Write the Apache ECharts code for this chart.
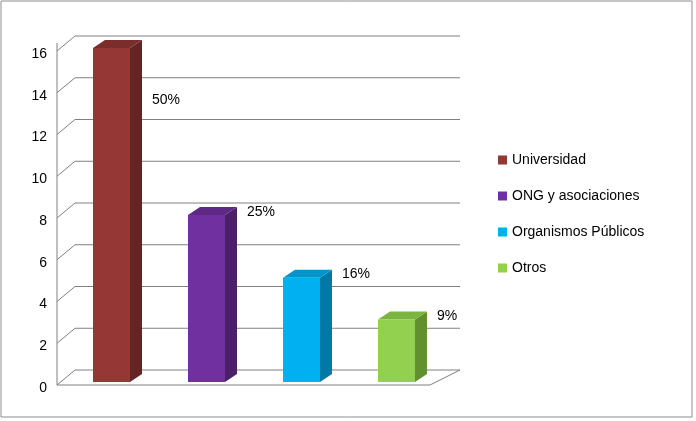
<!DOCTYPE html><html><head><meta charset="utf-8"><script src="https://cdn.jsdelivr.net/npm/echarts@6/dist/echarts.min.js"></script>
<style>body{margin:0}#c{width:696px;height:421px}</style></head><body><div id="c"></div><script>
const categories=['Universidad','ONG y asociaciones','Organismos Públicos','Otros'];
const values=[16,8,5,3];
const percents=['50%','25%','16%','9%'];
const ticks=[0,2,4,6,8,10,12,14,16];
const colors=[['#953735','#632523','#7a2d2b'],['#7030a0','#4b2069','#5e2886'],['#00b0f0','#0079a6','#0096cc'],['#92d050','#62902f','#7cb442']];
const DX=-18,DY=15;
const chart=echarts.init(document.getElementById('c'));
const font='Liberation Sans';
chart.setOption({
 animation:false,
 graphic:[{type:'rect',shape:{x:1,y:1,width:691,height:416},style:{fill:'#fff',stroke:'#8c8c8c',lineWidth:1},z:-10}],
 grid:{left:80,right:236,top:36,bottom:51},
 xAxis:{type:'category',data:categories,show:false},
 yAxis:{type:'value',min:0,max:16,interval:2,show:false},
 legend:{orient:'vertical',left:493,top:148,itemWidth:9,itemHeight:9,itemGap:22,icon:'rect',textStyle:{fontFamily:font,fontSize:14,color:'#000'},data:categories},
 series:[
 {type:'custom',name:'grid',silent:true,data:ticks.map(t=>[0,t]),z:1,renderItem:(p,api)=>{
   const v=api.value(1);const cs=p.coordSys;const pt=api.coord([0,v]);const y=pt[1];
   const xl=cs.x-5,xr=cs.x+cs.width;
   const ch=[{type:'polyline',shape:{points:[[xl+DX,y+DY],[xl,y],[xr,y]]},style:{stroke:'#808080',lineWidth:1,fill:null}},
     {type:'text',style:{text:String(v),x:xl+DX-10,y:y+DY+3,align:'right',verticalAlign:'middle',font:'14px '+font,fill:'#000'}}];
   if(v===0){ch.push({type:'polyline',shape:{points:[[xl+DX,y+DY],[xr-30,y+DY],[xr,y]]},style:{stroke:'#808080',lineWidth:1,fill:null}});
     ch.push({type:'line',shape:{x1:xl+DX,y1:y+DY,x2:xl+DX,y2:api.coord([0,16])[1]+DY-8},style:{stroke:'#808080',lineWidth:1}});}
   return {type:'group',children:ch};}},
 ...categories.map((c,i)=>({type:'custom',name:c,itemStyle:{color:colors[i][0]},z:5,data:[[i,values[i]]],renderItem:(p,api)=>{
   const top=api.coord([api.value(0),api.value(1)]),bot=api.coord([api.value(0),0]);
   const w=37,ox=-16,oy=12,dx=12,dy=-8;
   const x0=top[0]+ox-w/2,x1=x0+w,yt=top[1]+oy,yb=bot[1]+oy;
   const col=colors[i];
   return {type:'group',children:[
    {type:'polygon',shape:{points:[[x1,yt],[x1+dx,yt+dy],[x1+dx,yb+dy],[x1,yb]]},style:{fill:col[1]}},
    {type:'polygon',shape:{points:[[x0,yt],[x0+dx,yt+dy],[x1+dx,yt+dy],[x1,yt]]},style:{fill:col[2]}},
    {type:'rect',shape:{x:x0,y:yt,width:w,height:yb-yt},style:{fill:col[0]}},
    {type:'text',style:{text:percents[i],x:x1+dx+10,y:Math.max(yt-3,100),verticalAlign:'middle',font:'14px '+font,fill:'#000'}}
   ]};}}))
 ]
});
</script></body></html>
